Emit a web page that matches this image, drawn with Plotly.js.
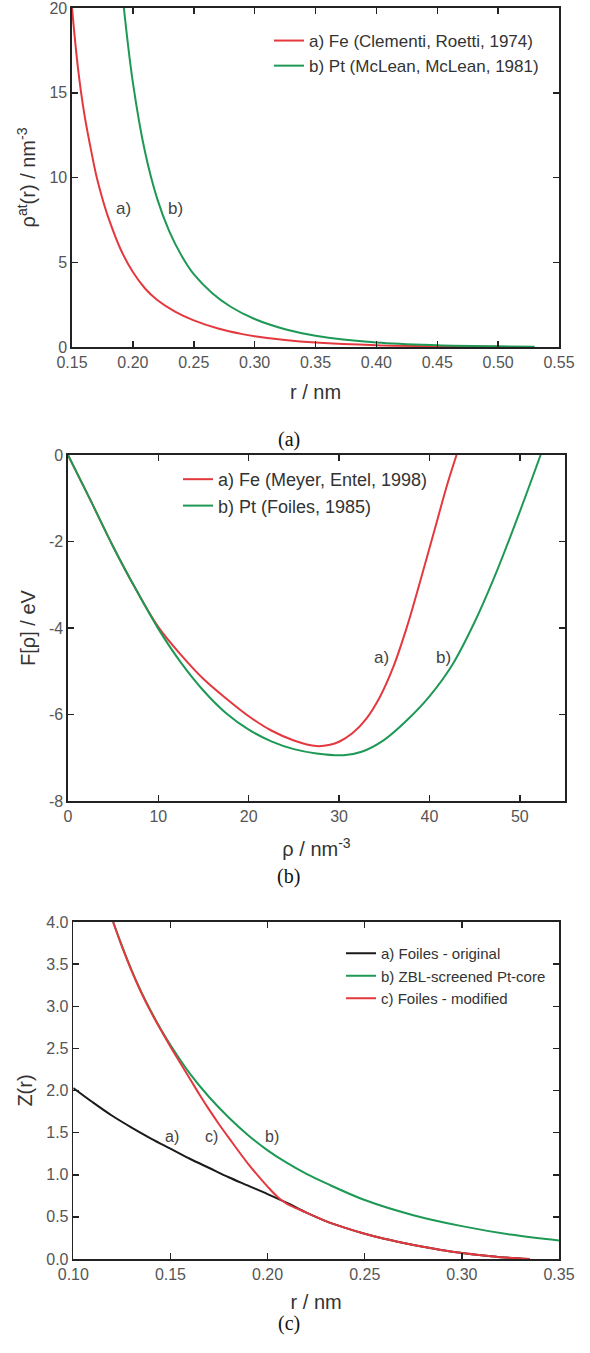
<!DOCTYPE html>
<html>
<head>
<meta charset="utf-8">
<script src="https://cdn.plot.ly/plotly-3.0.1.min.js"></script>
<style>html,body{margin:0;padding:0;background:#fff;}#chart{width:590px;height:1353px;}</style>
</head>
<body>
<div id="chart"></div>
<script>
// ---------- Panel (a): atomic electron density ----------
const rFe_a = [0.150,0.155,0.160,0.165,0.170,0.175,0.180,0.190,0.200,0.210,0.220,0.235,0.250,0.270,0.290,0.300,0.325,0.350,0.400,0.450,0.500];
const rhoFe_a = [20,16.4,13.8,11.85,10.1,8.75,7.6,5.75,4.42,3.45,2.77,2.07,1.57,1.09,0.76,0.64,0.41,0.26,0.105,0.043,0.017];
const rPt_a = [0.1926,0.200,0.210,0.220,0.230,0.240,0.250,0.265,0.280,0.300,0.325,0.350,0.400,0.450,0.500,0.530];
const rhoPt_a = [20,15.6,11.5,8.74,6.81,5.39,4.3,3.19,2.39,1.65,1.05,0.67,0.266,0.103,0.04,0.022];
const namesA = ["a) Fe (Clementi, Roetti, 1974)", "b) Pt (McLean, McLean, 1981)"];

// ---------- Panel (b): embedding function ----------
const rhoFe_b = [0,2.5,5,7.5,10,12.5,15,17.5,20,22.5,25,27.5,29,30,31.5,33,34.5,36,37.5,39,40.5,42,43];
const FFe_b = [0,-1.05,-2.12,-3.1,-3.98,-4.62,-5.18,-5.63,-6.04,-6.37,-6.6,-6.73,-6.7,-6.63,-6.43,-6.1,-5.6,-4.9,-3.98,-2.9,-1.78,-0.66,0];
const rhoPt_b = [0,2.5,5,7.5,10,12.5,15,17.5,20,22.5,25,27.5,30.5,32.5,35,37.5,40,42.5,45,47.5,50,52.3];
const FPt_b = [0,-1.05,-2.12,-3.1,-4.02,-4.8,-5.45,-5.97,-6.35,-6.62,-6.8,-6.9,-6.94,-6.86,-6.585,-6.135,-5.58,-4.86,-3.86,-2.66,-1.31,0];
const namesB = ["a) Fe (Meyer, Entel, 1998)", "b) Pt (Foiles, 1985)"];
const yTicksB = [0,-2,-4,-6,-8];
const yTickTextB = ["0","-2","-4","-6","-8"];

// ---------- Panel (c): effective charge ----------
const rOrig_c = [0.10,0.11,0.12,0.13,0.14,0.15,0.16,0.17,0.18,0.19,0.20,0.21,0.22,0.23,0.24,0.25,0.26,0.27,0.28,0.29,0.30,0.31,0.32,0.335];
const ZOrig_c = [2.03,1.86,1.70,1.56,1.43,1.31,1.19,1.08,0.97,0.87,0.77,0.665,0.55,0.45,0.37,0.30,0.24,0.19,0.145,0.105,0.07,0.045,0.022,0.0];
const rZBL_c = [0.1205,0.125,0.13,0.135,0.14,0.145,0.15,0.16,0.17,0.18,0.19,0.20,0.21,0.22,0.23,0.25,0.275,0.30,0.325,0.35];
const ZZBL_c = [4.0,3.72,3.43,3.17,2.94,2.73,2.54,2.2,1.92,1.68,1.47,1.29,1.14,1.01,0.9,0.70,0.52,0.39,0.29,0.22];
const rMod_c = [0.1205,0.125,0.13,0.135,0.14,0.145,0.15,0.155,0.16,0.165,0.17,0.175,0.18,0.19,0.20,0.205,0.21,0.215,0.22,0.23,0.24,0.25,0.26,0.27,0.28,0.29,0.30,0.31,0.32,0.335];
const ZMod_c = [4.0,3.71,3.42,3.16,2.93,2.72,2.52,2.33,2.14,1.95,1.77,1.6,1.44,1.13,0.86,0.74,0.655,0.6,0.55,0.45,0.37,0.30,0.24,0.19,0.145,0.105,0.07,0.045,0.022,0.0];
const namesC = ["a) Foiles - original", "b) ZBL-screened Pt-core", "c) Foiles - modified"];

const RED = "#e3393e", GREEN = "#1d9955", BLACK = "#1a1a1a";
const LW = 2;
const SPL = {shape:"spline", smoothing:1};

function line(color){ return Object.assign({color:color, width:LW}, SPL); }

const traces = [
  {x:rFe_a, y:rhoFe_a, name:namesA[0], xaxis:"x", yaxis:"y", legend:"legend", mode:"lines", line:line(RED)},
  {x:rPt_a, y:rhoPt_a, name:namesA[1], xaxis:"x", yaxis:"y", legend:"legend", mode:"lines", line:line(GREEN)},
  {x:rhoFe_b, y:FFe_b, name:namesB[0], xaxis:"x2", yaxis:"y2", legend:"legend2", mode:"lines", line:line(RED)},
  {x:rhoPt_b, y:FPt_b, name:namesB[1], xaxis:"x2", yaxis:"y2", legend:"legend2", mode:"lines", line:line(GREEN)},
  {x:rOrig_c, y:ZOrig_c, name:namesC[0], xaxis:"x3", yaxis:"y3", legend:"legend3", mode:"lines", line:line(BLACK)},
  {x:rZBL_c, y:ZZBL_c, name:namesC[1], xaxis:"x3", yaxis:"y3", legend:"legend3", mode:"lines", line:line(GREEN)},
  {x:rMod_c, y:ZMod_c, name:namesC[2], xaxis:"x3", yaxis:"y3", legend:"legend3", mode:"lines", line:line(RED)}
];

const W = 590, H = 1353;
const px = v => v / W;
const py = v => 1 - v / H;

const FONT = "Liberation Sans, Arial, Helvetica, sans-serif";
const TICKF = {family:FONT, size:16, color:"#555"};
const TITLEF = {family:FONT, size:20, color:"#333"};

function ax(extra){
  return Object.assign({
    showline:true, linecolor:"#222", linewidth:1.6, mirror:"ticks",
    ticks:"inside", ticklen:6, tickwidth:1.5, tickcolor:"#222",
    showgrid:false, zeroline:false, tickfont:TICKF, automargin:false,
    ticklabeloverflow:"allow"
  }, extra);
}

const layout = {
  width:W, height:H,
  margin:{l:0,r:0,t:0,b:0},
  paper_bgcolor:"#fff", plot_bgcolor:"#fff",
  font:{family:FONT, color:"#333"},
  showlegend:true,
  xaxis: ax({domain:[px(72),px(559)], anchor:"y", range:[0.15,0.55], dtick:0.05, tick0:0.15, tickformat:".2f",
             title:{text:"r / nm", font:TITLEF, standoff:15}}),
  yaxis: ax({domain:[py(347),py(8)], anchor:"x", range:[0,20], dtick:5,
             title:{text:"ρ<sup>at</sup>(r) / nm<sup>-3</sup>", font:TITLEF, standoff:8}}),
  xaxis2: ax({domain:[px(68),px(565)], anchor:"y2", range:[0,55], dtick:10,
             title:{text:"ρ / nm<sup>-3</sup>", font:TITLEF, standoff:18}}),
  yaxis2: ax({domain:[py(801),py(455)], anchor:"x2", range:[-8,0], tickmode:"array", tickvals:yTicksB, ticktext:yTickTextB,
             title:{text:"F[ρ] / eV", font:TITLEF, standoff:8}}),
  xaxis3: ax({domain:[px(73.3),px(559)], anchor:"y3", range:[0.10,0.35], dtick:0.05, tick0:0.10, tickformat:".2f",
             title:{text:"r / nm", font:TITLEF, standoff:13}}),
  yaxis3: ax({domain:[py(1259),py(922)], anchor:"x3", range:[0,4], dtick:0.5, tickformat:".1f",
             title:{text:"Z(r)", font:TITLEF, standoff:8}}),
  legend: {x:px(269), xanchor:"left", y:py(23), yanchor:"top", bgcolor:"rgba(255,255,255,0)", font:{family:FONT,size:17,color:"#333"}, tracegroupgap:0, itemwidth:30},
  legend2:{x:px(178), xanchor:"left", y:py(461), yanchor:"top", bgcolor:"rgba(255,255,255,0)", font:{family:FONT,size:18,color:"#333"}, tracegroupgap:0, itemwidth:30},
  legend3:{x:px(341), xanchor:"left", y:py(937), yanchor:"top", bgcolor:"rgba(255,255,255,0)", font:{family:FONT,size:15,color:"#333"}, tracegroupgap:0, itemwidth:30},
  annotations:[
    {xref:"x", yref:"y", x:0.1927, y:8.2, text:"a)", showarrow:false, font:{family:FONT,size:17,color:"#444"}},
    {xref:"x", yref:"y", x:0.235, y:8.2, text:"b)", showarrow:false, font:{family:FONT,size:17,color:"#444"}},
    {xref:"x2", yref:"y2", x:34.66, y:-4.69, text:"a)", showarrow:false, font:{family:FONT,size:17,color:"#444"}},
    {xref:"x2", yref:"y2", x:41.6, y:-4.69, text:"b)", showarrow:false, font:{family:FONT,size:17,color:"#444"}},
    {xref:"x3", yref:"y3", x:0.151, y:1.45, text:"a)", showarrow:false, font:{family:FONT,size:16,color:"#444"}},
    {xref:"x3", yref:"y3", x:0.1712, y:1.45, text:"c)", showarrow:false, font:{family:FONT,size:16,color:"#444"}},
    {xref:"x3", yref:"y3", x:0.2021, y:1.45, text:"b)", showarrow:false, font:{family:FONT,size:16,color:"#444"}},
    {xref:"paper", yref:"paper", x:px(289), y:py(426), text:"(a)", showarrow:false, font:{family:"Liberation Serif, DejaVu Serif, serif",size:20,color:"#111"}},
    {xref:"paper", yref:"paper", x:px(288), y:py(876), text:"(b)", showarrow:false, font:{family:"Liberation Serif, DejaVu Serif, serif",size:20,color:"#111"}},
    {xref:"paper", yref:"paper", x:px(289), y:py(1337), text:"(c)", showarrow:false, font:{family:"Liberation Serif, DejaVu Serif, serif",size:20,color:"#111"}}
  ]
};

Plotly.newPlot("chart", traces, layout, {staticPlot:true, displayModeBar:false});
</script>
</body>
</html>
